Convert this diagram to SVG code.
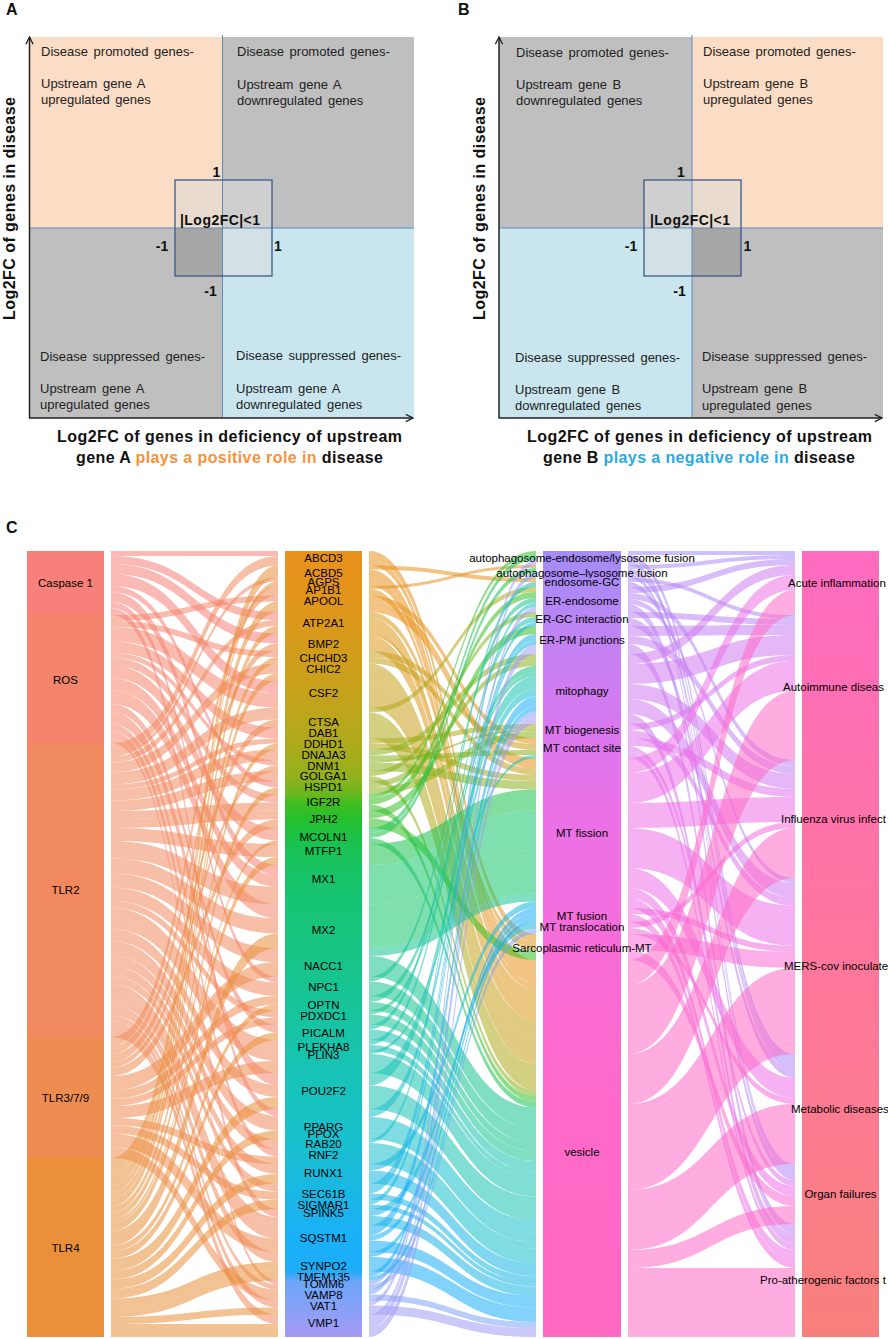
<svg xmlns="http://www.w3.org/2000/svg" width="888" height="1339" viewBox="0 0 888 1339">
<style>
text{font-family:"Liberation Sans",Arial,Helvetica,sans-serif;fill:#111}
.q{font-size:13px;word-spacing:2px;fill:#222}
.ax{font-size:16px;font-weight:bold}
.n{font-size:14px;font-weight:bold;text-anchor:middle}
.pl{font-size:16px;font-weight:bold}
.lb{font-size:11.5px;text-anchor:middle;fill:#000}
.ls{font-size:11.5px;fill:#000}
.axis{stroke:#222;stroke-width:1.5;fill:none}
.div{stroke:#5B8BC6;stroke-width:1;fill:none}
.box{stroke:#3A5A8C;stroke-width:1.3;fill:none}
.or{fill:#FBDCC4}.gr{fill:#BFBFBF}.bl{fill:#C9E6EF}
.fl path{fill-opacity:.55}
.s1{fill:#F8807A}.s2{fill:#F4856C}.s3{fill:#F28A60}.s4{fill:#EE8D52}.s5{fill:#EA903A}
.g1{fill:#E8911C}.g2{fill:#DC991B}.g3{fill:#C8A11B}.g4{fill:#AEAA1C}.g5{fill:#8CB31E}
.g6{fill:#34BF24}.g7{fill:#1AC250}.g8{fill:#17C46C}.g9{fill:#17C492}.g10{fill:#17C3B2}
.g11{fill:#18BFCC}.g12{fill:#19B7E4}.g13{fill:#1AAFF8}.g14{fill:#7FA4F8}.g15{fill:#A09AF6}
.p1{fill:#A68CF8}.p2{fill:#AC8AF7}.p3{fill:#B188F6}.p4{fill:#B886F5}.p5{fill:#BE84F4}
.p6{fill:#C581F3}.p7{fill:#D07CF1}.p8{fill:#DC77EE}.p9{fill:#E074EC}.p10{fill:#EC71E7}
.p11{fill:#F36EDF}.p12{fill:#F56EDC}.p13{fill:#F86CD6}.p14{fill:#FF6AC8}
.cg{fill:url(#gg)}.cp{fill:url(#gp)}.cd{fill:url(#gd)}
</style>
<defs>
<marker id="arr" viewBox="0 0 10 10" refX="9" refY="5" markerWidth="9" markerHeight="9" markerUnits="userSpaceOnUse" orient="auto">
<path d="M1 1L9 5L1 9" fill="none" stroke="#222" stroke-width="1.5"/>
</marker>
<linearGradient id="gg" gradientUnits="userSpaceOnUse" x1="0" y1="551" x2="0" y2="1337">
<stop offset="0" stop-color="#E8911C"/><stop offset="0.062" stop-color="#E2951B"/><stop offset="0.18" stop-color="#C6A21B"/>
<stop offset="0.246" stop-color="#AEAA1C"/><stop offset="0.286" stop-color="#94B11D"/><stop offset="0.309" stop-color="#6BB81E"/>
<stop offset="0.319" stop-color="#45BD20"/><stop offset="0.341" stop-color="#25C02E"/><stop offset="0.373" stop-color="#19C250"/>
<stop offset="0.417" stop-color="#17C46A"/><stop offset="0.505" stop-color="#17C482"/><stop offset="0.584" stop-color="#17C49C"/>
<stop offset="0.664" stop-color="#17C3B6"/><stop offset="0.749" stop-color="#18C0CC"/><stop offset="0.804" stop-color="#19B9E0"/>
<stop offset="0.874" stop-color="#1AB0F8"/><stop offset="0.916" stop-color="#1EADF9"/><stop offset="0.929" stop-color="#6BA6F8"/>
<stop offset="1" stop-color="#A69AF6"/>
</linearGradient>
<linearGradient id="gp" gradientUnits="userSpaceOnUse" x1="0" y1="551" x2="0" y2="1337">
<stop offset="0" stop-color="#A68CF8"/><stop offset="0.04" stop-color="#AC8AF7"/><stop offset="0.08" stop-color="#B886F5"/>
<stop offset="0.13" stop-color="#C681F3"/><stop offset="0.19" stop-color="#D17BF1"/><stop offset="0.24" stop-color="#DC77EE"/>
<stop offset="0.32" stop-color="#EA72E8"/><stop offset="0.455" stop-color="#F36EDF"/><stop offset="0.52" stop-color="#F86CD6"/>
<stop offset="0.7" stop-color="#FF6ACA"/><stop offset="1" stop-color="#FF69C2"/>
</linearGradient>
<linearGradient id="gd" gradientUnits="userSpaceOnUse" x1="0" y1="551" x2="0" y2="1337">
<stop offset="0" stop-color="#FF6CC0"/><stop offset="0.19" stop-color="#FF6FB4"/><stop offset="0.35" stop-color="#FF73A8"/>
<stop offset="0.53" stop-color="#FF779C"/><stop offset="0.71" stop-color="#FD7B92"/><stop offset="0.82" stop-color="#FA7E88"/>
<stop offset="1" stop-color="#F8807C"/>
</linearGradient>
</defs>
<rect width="888" height="1339" fill="#fff"/>

<!-- Panel A -->
<g id="panelA">
<text class="pl" x="6" y="15">A</text>
<g id="A-q1"><rect class="or" x="30" y="37" width="192.5" height="191"/>
<text class="q" x="41" y="55.5">Disease promoted genes-</text><text class="q" x="41" y="87.5">Upstream gene A</text><text class="q" x="41" y="103.5">upregulated genes</text></g>
<g id="A-q2"><rect class="gr" x="222.5" y="37" width="191.5" height="191"/>
<text class="q" x="237" y="56">Disease promoted genes-</text><text class="q" x="237" y="88.5">Upstream gene A</text><text class="q" x="237" y="104.5">downregulated genes</text></g>
<g id="A-q3"><rect class="gr" x="30" y="228" width="192.5" height="190"/>
<text class="q" x="40" y="361">Disease suppressed genes-</text><text class="q" x="40" y="393">Upstream gene A</text><text class="q" x="40" y="409">upregulated genes</text></g>
<g id="A-q4"><rect class="bl" x="222.5" y="228" width="191.5" height="190"/>
<text class="q" x="236" y="360">Disease suppressed genes-</text><text class="q" x="236" y="392.5">Upstream gene A</text><text class="q" x="236" y="408.5">downregulated genes</text></g>
<g id="A-box">
<rect x="175" y="180" width="47.5" height="48" fill="#EADBCF"/><rect x="222.5" y="180" width="49.5" height="48" fill="#CFCFCF"/>
<rect x="175" y="228" width="47.5" height="48" fill="#A6A6A6"/><rect x="222.5" y="228" width="49.5" height="48" fill="#D3E0E4"/>
</g>
<line class="div" x1="222.5" y1="35" x2="222.5" y2="418"/>
<line class="div" x1="30" y1="228" x2="414" y2="228"/>
<rect class="box" x="175" y="180" width="97" height="96"/>
<text class="n" x="216.5" y="176.5">1</text>
<text class="n" x="220" y="225" textLength="80" lengthAdjust="spacing">|Log2FC|&lt;1</text>
<text class="n" x="162" y="251">-1</text>
<text class="n" x="278" y="251">1</text>
<text class="n" x="210.5" y="296">-1</text>
<line class="axis" x1="29.5" y1="418" x2="29.5" y2="37" marker-end="url(#arr)"/>
<line class="axis" x1="29" y1="418" x2="413" y2="418" marker-end="url(#arr)"/>
<text class="ax" transform="translate(15,208.5) rotate(-90)" text-anchor="middle" textLength="223" lengthAdjust="spacing">Log2FC of genes in disease</text>
<text class="ax" x="229.5" y="442" text-anchor="middle" textLength="345" lengthAdjust="spacing">Log2FC of genes in deficiency of upstream</text>
<text class="ax" x="229.5" y="463" text-anchor="middle" textLength="307" lengthAdjust="spacing">gene A <tspan fill="#F7923A">plays a positive role in</tspan> disease</text>
</g>

<!-- Panel B -->
<g id="panelB">
<text class="pl" x="458" y="15">B</text>
<g id="B-q1"><rect class="gr" x="499" y="37" width="193" height="191"/>
<text class="q" x="516" y="57">Disease promoted genes-</text><text class="q" x="516" y="89">Upstream gene B</text><text class="q" x="516" y="105">downregulated genes</text></g>
<g id="B-q2"><rect class="or" x="692" y="37" width="191" height="191"/>
<text class="q" x="703" y="56">Disease promoted genes-</text><text class="q" x="703" y="88">Upstream gene B</text><text class="q" x="703" y="104">upregulated genes</text></g>
<g id="B-q3"><rect class="bl" x="499" y="228" width="193" height="190"/>
<text class="q" x="515" y="361.5">Disease suppressed genes-</text><text class="q" x="515" y="394">Upstream gene B</text><text class="q" x="515" y="410">downregulated genes</text></g>
<g id="B-q4"><rect class="gr" x="692" y="228" width="191" height="190"/>
<text class="q" x="702" y="361">Disease suppressed genes-</text><text class="q" x="702" y="393">Upstream gene B</text><text class="q" x="702" y="409.5">upregulated genes</text></g>
<g id="B-box">
<rect x="644" y="180" width="48" height="48" fill="#CFCFCF"/><rect x="692" y="180" width="49" height="48" fill="#EADBCF"/>
<rect x="644" y="228" width="48" height="48" fill="#D3E0E4"/><rect x="692" y="228" width="49" height="48" fill="#A6A6A6"/>
</g>
<line class="div" x1="692" y1="35" x2="692" y2="418"/>
<line class="div" x1="499" y1="228" x2="883" y2="228"/>
<rect class="box" x="644" y="180" width="97" height="96"/>
<text class="n" x="681" y="176.5">1</text>
<text class="n" x="690" y="225" textLength="80" lengthAdjust="spacing">|Log2FC|&lt;1</text>
<text class="n" x="631" y="251">-1</text>
<text class="n" x="747.5" y="251">1</text>
<text class="n" x="679.5" y="296">-1</text>
<line class="axis" x1="499" y1="418" x2="499" y2="37" marker-end="url(#arr)"/>
<line class="axis" x1="498.5" y1="418" x2="882" y2="418" marker-end="url(#arr)"/>
<text class="ax" transform="translate(485,208.5) rotate(-90)" text-anchor="middle" textLength="223" lengthAdjust="spacing">Log2FC of genes in disease</text>
<text class="ax" x="699.5" y="442" text-anchor="middle" textLength="345" lengthAdjust="spacing">Log2FC of genes in deficiency of upstream</text>
<text class="ax" x="699" y="463" text-anchor="middle" textLength="312" lengthAdjust="spacing">gene B <tspan fill="#29ABE2">plays a negative role in</tspan> disease</text>
</g>

<!-- Panel C -->
<text class="pl" x="6" y="533">C</text>
<g id="connectors" class="fl">
<g transform="translate(111,0)">
<g class="s1">
<path d="M0 551C83.5 551 83.5 551 167 551V556C83.5 556 83.5 556 0 556Z"/>
<path d="M0 556C83.5 556 83.5 612 167 612V620C83.5 620 83.5 564 0 564Z"/>
<path d="M0 564C83.5 564 83.5 633.5 167 633.5V643.5C83.5 643.5 83.5 574 0 574Z"/>
<path d="M0 574C83.5 574 83.5 681 167 681V693C83.5 693 83.5 586 0 586Z"/>
<path d="M0 586C83.5 586 83.5 781.5 167 781.5V787.5C83.5 787.5 83.5 592 0 592Z"/>
<path d="M0 592C83.5 592 83.5 865 167 865V875C83.5 875 83.5 602 0 602Z"/>
<path d="M0 602C83.5 602 83.5 976.5 167 976.5V982.5C83.5 982.5 83.5 608 0 608Z"/>
<path d="M0 608C83.5 608 83.5 1109 167 1109V1116C83.5 1116 83.5 615 0 615Z"/>
</g>
<g class="s2">
<path d="M0 615C83.5 615 83.5 595.5 167 595.5V601.5C83.5 601.5 83.5 621 0 621Z"/>
<path d="M0 621C83.5 621 83.5 651 167 651V657C83.5 657 83.5 627 0 627Z"/>
<path d="M0 627C83.5 627 83.5 693 167 693V707.5C83.5 707.5 83.5 641.5 0 641.5Z"/>
<path d="M0 641.5C83.5 641.5 83.5 727.5 167 727.5V738.5C83.5 738.5 83.5 652.5 0 652.5Z"/>
<path d="M0 652.5C83.5 652.5 83.5 760.5 167 760.5V765.5C83.5 765.5 83.5 657.5 0 657.5Z"/>
<path d="M0 657.5C83.5 657.5 83.5 794.5 167 794.5V802.5C83.5 802.5 83.5 665.5 0 665.5Z"/>
<path d="M0 665.5C83.5 665.5 83.5 828 167 828V840.5C83.5 840.5 83.5 678 0 678Z"/>
<path d="M0 678C83.5 678 83.5 875 167 875V887C83.5 887 83.5 690 0 690Z"/>
<path d="M0 690C83.5 690 83.5 904.5 167 904.5V918.5C83.5 918.5 83.5 704 0 704Z"/>
<path d="M0 704C83.5 704 83.5 1024.5 167 1024.5V1032.5C83.5 1032.5 83.5 712 0 712Z"/>
<path d="M0 712C83.5 712 83.5 1073 167 1073V1085C83.5 1085 83.5 724 0 724Z"/>
<path d="M0 724C83.5 724 83.5 1149.5 167 1149.5V1156.5C83.5 1156.5 83.5 731 0 731Z"/>
<path d="M0 731C83.5 731 83.5 1209 167 1209V1217C83.5 1217 83.5 739 0 739Z"/>
<path d="M0 739C83.5 739 83.5 1280.5 167 1280.5V1284.5C83.5 1284.5 83.5 743 0 743Z"/>
</g>
<g class="s3">
<path d="M0 743C83.5 743 83.5 556 167 556V565.5C83.5 565.5 83.5 752.5 0 752.5Z"/>
<path d="M0 752.5C83.5 752.5 83.5 577.5 167 577.5V581.5C83.5 581.5 83.5 756.5 0 756.5Z"/>
<path d="M0 756.5C83.5 756.5 83.5 620 167 620V626C83.5 626 83.5 762.5 0 762.5Z"/>
<path d="M0 762.5C83.5 762.5 83.5 663.5 167 663.5V673.5C83.5 673.5 83.5 772.5 0 772.5Z"/>
<path d="M0 772.5C83.5 772.5 83.5 707.5 167 707.5V719.5C83.5 719.5 83.5 784.5 0 784.5Z"/>
<path d="M0 784.5C83.5 784.5 83.5 738.5 167 738.5V743.5C83.5 743.5 83.5 789.5 0 789.5Z"/>
<path d="M0 789.5C83.5 789.5 83.5 749.5 167 749.5V760.5C83.5 760.5 83.5 800.5 0 800.5Z"/>
<path d="M0 800.5C83.5 800.5 83.5 771 167 771V781.5C83.5 781.5 83.5 811 0 811Z"/>
<path d="M0 811C83.5 811 83.5 802.5 167 802.5V810.5C83.5 810.5 83.5 819 0 819Z"/>
<path d="M0 819C83.5 819 83.5 810.5 167 810.5V819.5C83.5 819.5 83.5 828 0 828Z"/>
<path d="M0 828C83.5 828 83.5 844 167 844V857C83.5 857 83.5 841 0 841Z"/>
<path d="M0 841C83.5 841 83.5 887 167 887V904.5C83.5 904.5 83.5 858.5 0 858.5Z"/>
<path d="M0 858.5C83.5 858.5 83.5 918.5 167 918.5V933.5C83.5 933.5 83.5 873.5 0 873.5Z"/>
<path d="M0 873.5C83.5 873.5 83.5 948 167 948V962C83.5 962 83.5 887.5 0 887.5Z"/>
<path d="M0 887.5C83.5 887.5 83.5 982.5 167 982.5V996C83.5 996 83.5 901 0 901Z"/>
<path d="M0 901C83.5 901 83.5 1010.5 167 1010.5V1017.5C83.5 1017.5 83.5 908 0 908Z"/>
<path d="M0 908C83.5 908 83.5 1040 167 1040V1051C83.5 1051 83.5 919 0 919Z"/>
<path d="M0 919C83.5 919 83.5 1051 167 1051V1061C83.5 1061 83.5 929 0 929Z"/>
<path d="M0 929C83.5 929 83.5 1085 167 1085V1097C83.5 1097 83.5 941 0 941Z"/>
<path d="M0 941C83.5 941 83.5 1116 167 1116V1130.5C83.5 1130.5 83.5 955.5 0 955.5Z"/>
<path d="M0 955.5C83.5 955.5 83.5 1139 167 1139V1149.5C83.5 1149.5 83.5 966 0 966Z"/>
<path d="M0 966C83.5 966 83.5 1164 167 1164V1174C83.5 1174 83.5 976 0 976Z"/>
<path d="M0 976C83.5 976 83.5 1183.5 167 1183.5V1191.5C83.5 1191.5 83.5 984 0 984Z"/>
<path d="M0 984C83.5 984 83.5 1217 167 1217V1225.5C83.5 1225.5 83.5 992.5 0 992.5Z"/>
<path d="M0 992.5C83.5 992.5 83.5 1225.5 167 1225.5V1238.5C83.5 1238.5 83.5 1005.5 0 1005.5Z"/>
<path d="M0 1005.5C83.5 1005.5 83.5 1252 167 1252V1262C83.5 1262 83.5 1015.5 0 1015.5Z"/>
<path d="M0 1015.5C83.5 1015.5 83.5 1284.5 167 1284.5V1289.5C83.5 1289.5 83.5 1020.5 0 1020.5Z"/>
<path d="M0 1020.5C83.5 1020.5 83.5 1300.5 167 1300.5V1307.5C83.5 1307.5 83.5 1027.5 0 1027.5Z"/>
<path d="M0 1027.5C83.5 1027.5 83.5 1314.5 167 1314.5V1324C83.5 1324 83.5 1037 0 1037Z"/>
</g>
<g class="s4">
<path d="M0 1037C83.5 1037 83.5 586 167 586V595.5C83.5 595.5 83.5 1046.5 0 1046.5Z"/>
<path d="M0 1046.5C83.5 1046.5 83.5 643.5 167 643.5V651C83.5 651 83.5 1054 0 1054Z"/>
<path d="M0 1054C83.5 1054 83.5 719.5 167 719.5V727.5C83.5 727.5 83.5 1062 0 1062Z"/>
<path d="M0 1062C83.5 1062 83.5 765.5 167 765.5V771C83.5 771 83.5 1067.5 0 1067.5Z"/>
<path d="M0 1067.5C83.5 1067.5 83.5 819.5 167 819.5V828C83.5 828 83.5 1076 0 1076Z"/>
<path d="M0 1076C83.5 1076 83.5 962 167 962V976.5C83.5 976.5 83.5 1090.5 0 1090.5Z"/>
<path d="M0 1090.5C83.5 1090.5 83.5 996 167 996V1004.5C83.5 1004.5 83.5 1099 0 1099Z"/>
<path d="M0 1099C83.5 1099 83.5 1017.5 167 1017.5V1024.5C83.5 1024.5 83.5 1106 0 1106Z"/>
<path d="M0 1106C83.5 1106 83.5 1061 167 1061V1073C83.5 1073 83.5 1118 0 1118Z"/>
<path d="M0 1118C83.5 1118 83.5 1156.5 167 1156.5V1164C83.5 1164 83.5 1125.5 0 1125.5Z"/>
<path d="M0 1125.5C83.5 1125.5 83.5 1191.5 167 1191.5V1199.5C83.5 1199.5 83.5 1133.5 0 1133.5Z"/>
<path d="M0 1133.5C83.5 1133.5 83.5 1238.5 167 1238.5V1252C83.5 1252 83.5 1147 0 1147Z"/>
<path d="M0 1147C83.5 1147 83.5 1289.5 167 1289.5V1300.5C83.5 1300.5 83.5 1158 0 1158Z"/>
</g>
<g class="s5">
<path d="M0 1158C83.5 1158 83.5 565.5 167 565.5V577.5C83.5 577.5 83.5 1170 0 1170Z"/>
<path d="M0 1170C83.5 1170 83.5 581.5 167 581.5V586C83.5 586 83.5 1174.5 0 1174.5Z"/>
<path d="M0 1174.5C83.5 1174.5 83.5 601.5 167 601.5V612C83.5 612 83.5 1185 0 1185Z"/>
<path d="M0 1185C83.5 1185 83.5 626 167 626V633.5C83.5 633.5 83.5 1192.5 0 1192.5Z"/>
<path d="M0 1192.5C83.5 1192.5 83.5 657 167 657V663.5C83.5 663.5 83.5 1199 0 1199Z"/>
<path d="M0 1199C83.5 1199 83.5 673.5 167 673.5V681C83.5 681 83.5 1206.5 0 1206.5Z"/>
<path d="M0 1206.5C83.5 1206.5 83.5 743.5 167 743.5V749.5C83.5 749.5 83.5 1212.5 0 1212.5Z"/>
<path d="M0 1212.5C83.5 1212.5 83.5 787.5 167 787.5V794.5C83.5 794.5 83.5 1219.5 0 1219.5Z"/>
<path d="M0 1219.5C83.5 1219.5 83.5 840.5 167 840.5V844C83.5 844 83.5 1223 0 1223Z"/>
<path d="M0 1223C83.5 1223 83.5 857 167 857V865C83.5 865 83.5 1231 0 1231Z"/>
<path d="M0 1231C83.5 1231 83.5 933.5 167 933.5V948C83.5 948 83.5 1245.5 0 1245.5Z"/>
<path d="M0 1245.5C83.5 1245.5 83.5 1004.5 167 1004.5V1010.5C83.5 1010.5 83.5 1251.5 0 1251.5Z"/>
<path d="M0 1251.5C83.5 1251.5 83.5 1032.5 167 1032.5V1040C83.5 1040 83.5 1259 0 1259Z"/>
<path d="M0 1259C83.5 1259 83.5 1097 167 1097V1109C83.5 1109 83.5 1271 0 1271Z"/>
<path d="M0 1271C83.5 1271 83.5 1130.5 167 1130.5V1139C83.5 1139 83.5 1279.5 0 1279.5Z"/>
<path d="M0 1279.5C83.5 1279.5 83.5 1174 167 1174V1183.5C83.5 1183.5 83.5 1289 0 1289Z"/>
<path d="M0 1289C83.5 1289 83.5 1199.5 167 1199.5V1209C83.5 1209 83.5 1298.5 0 1298.5Z"/>
<path d="M0 1298.5C83.5 1298.5 83.5 1262 167 1262V1271.5C83.5 1271.5 83.5 1308 0 1308Z"/>
<path d="M0 1308C83.5 1308 83.5 1271.5 167 1271.5V1280.5C83.5 1280.5 83.5 1317 0 1317Z"/>
<path d="M0 1317C83.5 1317 83.5 1307.5 167 1307.5V1314.5C83.5 1314.5 83.5 1324 0 1324Z"/>
<path d="M0 1324C83.5 1324 83.5 1324 167 1324V1337C83.5 1337 83.5 1337 0 1337Z"/>
</g>
</g>
<g transform="translate(369,0)">
<g class="g1">
<path d="M0 551C83.5 551 83.5 934 167 934V942C83.5 942 83.5 559 0 559Z"/>
<path d="M0 559C83.5 559 83.5 960 167 960V966.5C83.5 966.5 83.5 565.5 0 565.5Z"/>
<path d="M0 565.5C83.5 565.5 83.5 578 167 578V582C83.5 582 83.5 569.5 0 569.5Z"/>
<path d="M0 569.5C83.5 569.5 83.5 966.5 167 966.5V974.5C83.5 974.5 83.5 577.5 0 577.5Z"/>
<path d="M0 577.5C83.5 577.5 83.5 974.5 167 974.5V983C83.5 983 83.5 586 0 586Z"/>
<path d="M0 586C83.5 586 83.5 565 167 565V568C83.5 568 83.5 589 0 589Z"/>
<path d="M0 589C83.5 589 83.5 983 167 983V989.5C83.5 989.5 83.5 595.5 0 595.5Z"/>
<path d="M0 595.5C83.5 595.5 83.5 738 167 738V744C83.5 744 83.5 601.5 0 601.5Z"/>
<path d="M0 601.5C83.5 601.5 83.5 758 167 758V768.5C83.5 768.5 83.5 612 0 612Z"/>
</g>
<g class="g2">
<path d="M0 612C83.5 612 83.5 942 167 942V948C83.5 948 83.5 618 0 618Z"/>
<path d="M0 618C83.5 618 83.5 989.5 167 989.5V1005C83.5 1005 83.5 633.5 0 633.5Z"/>
<path d="M0 633.5C83.5 633.5 83.5 948 167 948V950.5C83.5 950.5 83.5 636 0 636Z"/>
<path d="M0 636C83.5 636 83.5 1005 167 1005V1020C83.5 1020 83.5 651 0 651Z"/>
</g>
<g class="g3">
<path d="M0 651C83.5 651 83.5 744 167 744V750C83.5 750 83.5 657 0 657Z"/>
<path d="M0 657C83.5 657 83.5 768.5 167 768.5V775C83.5 775 83.5 663.5 0 663.5Z"/>
<path d="M0 663.5C83.5 663.5 83.5 1020 167 1020V1037.5C83.5 1037.5 83.5 681 0 681Z"/>
<path d="M0 681C83.5 681 83.5 1037.5 167 1037.5V1064C83.5 1064 83.5 707.5 0 707.5Z"/>
</g>
<g class="g4">
<path d="M0 707.5C83.5 707.5 83.5 587 167 587V592C83.5 592 83.5 712.5 0 712.5Z"/>
<path d="M0 712.5C83.5 712.5 83.5 1064 167 1064V1079C83.5 1079 83.5 727.5 0 727.5Z"/>
<path d="M0 727.5C83.5 727.5 83.5 1079 167 1079V1090C83.5 1090 83.5 738.5 0 738.5Z"/>
<path d="M0 738.5C83.5 738.5 83.5 724 167 724V729C83.5 729 83.5 743.5 0 743.5Z"/>
<path d="M0 743.5C83.5 743.5 83.5 775 167 775V781C83.5 781 83.5 749.5 0 749.5Z"/>
</g>
<g class="g5">
<path d="M0 749.5C83.5 749.5 83.5 654 167 654V660C83.5 660 83.5 755.5 0 755.5Z"/>
<path d="M0 755.5C83.5 755.5 83.5 750 167 750V755C83.5 755 83.5 760.5 0 760.5Z"/>
<path d="M0 760.5C83.5 760.5 83.5 729 167 729V731C83.5 731 83.5 762.5 0 762.5Z"/>
<path d="M0 762.5C83.5 762.5 83.5 781 167 781V789.5C83.5 789.5 83.5 771 0 771Z"/>
<path d="M0 771C83.5 771 83.5 612 167 612V617C83.5 617 83.5 776 0 776Z"/>
<path d="M0 776C83.5 776 83.5 1090 167 1090V1095.5C83.5 1095.5 83.5 781.5 0 781.5Z"/>
<path d="M0 781.5C83.5 781.5 83.5 660 167 660V666C83.5 666 83.5 787.5 0 787.5Z"/>
<path d="M0 787.5C83.5 787.5 83.5 731 167 731V738C83.5 738 83.5 794.5 0 794.5Z"/>
</g>
<g class="g6">
<path d="M0 794.5C83.5 794.5 83.5 551 167 551V555C83.5 555 83.5 798.5 0 798.5Z"/>
<path d="M0 798.5C83.5 798.5 83.5 592 167 592V598C83.5 598 83.5 804.5 0 804.5Z"/>
<path d="M0 804.5C83.5 804.5 83.5 1095.5 167 1095.5V1101.5C83.5 1101.5 83.5 810.5 0 810.5Z"/>
<path d="M0 810.5C83.5 810.5 83.5 626 167 626V634C83.5 634 83.5 818.5 0 818.5Z"/>
<path d="M0 818.5C83.5 818.5 83.5 950.5 167 950.5V960C83.5 960 83.5 828 0 828Z"/>
</g>
<g class="g7">
<path d="M0 828C83.5 828 83.5 555 167 555V560C83.5 560 83.5 833 0 833Z"/>
<path d="M0 833C83.5 833 83.5 568 167 568V573C83.5 573 83.5 838 0 838Z"/>
<path d="M0 838C83.5 838 83.5 1101.5 167 1101.5V1107.5C83.5 1107.5 83.5 844 0 844Z"/>
<path d="M0 844C83.5 844 83.5 789.5 167 789.5V810.5C83.5 810.5 83.5 865 0 865Z"/>
</g>
<g class="g8">
<path d="M0 865C83.5 865 83.5 810.5 167 810.5V850C83.5 850 83.5 904.5 0 904.5Z"/>
<path d="M0 904.5C83.5 904.5 83.5 850 167 850V893.5C83.5 893.5 83.5 948 0 948Z"/>
</g>
<g class="g9">
<path d="M0 948C83.5 948 83.5 893.5 167 893.5V901.5C83.5 901.5 83.5 956 0 956Z"/>
<path d="M0 956C83.5 956 83.5 1107.5 167 1107.5V1128C83.5 1128 83.5 976.5 0 976.5Z"/>
<path d="M0 976.5C83.5 976.5 83.5 598 167 598V603C83.5 603 83.5 981.5 0 981.5Z"/>
<path d="M0 981.5C83.5 981.5 83.5 1128 167 1128V1142.5C83.5 1142.5 83.5 996 0 996Z"/>
<path d="M0 996C83.5 996 83.5 666 167 666V672C83.5 672 83.5 1002 0 1002Z"/>
<path d="M0 1002C83.5 1002 83.5 1142.5 167 1142.5V1151C83.5 1151 83.5 1010.5 0 1010.5Z"/>
<path d="M0 1010.5C83.5 1010.5 83.5 672 167 672V676C83.5 676 83.5 1014.5 0 1014.5Z"/>
<path d="M0 1014.5C83.5 1014.5 83.5 1151 167 1151V1161C83.5 1161 83.5 1024.5 0 1024.5Z"/>
</g>
<g class="g10">
<path d="M0 1024.5C83.5 1024.5 83.5 582 167 582V587C83.5 587 83.5 1029.5 0 1029.5Z"/>
<path d="M0 1029.5C83.5 1029.5 83.5 1161 167 1161V1171.5C83.5 1171.5 83.5 1040 0 1040Z"/>
<path d="M0 1040C83.5 1040 83.5 617 167 617V622C83.5 622 83.5 1045 0 1045Z"/>
<path d="M0 1045C83.5 1045 83.5 1171.5 167 1171.5V1177.5C83.5 1177.5 83.5 1051 0 1051Z"/>
<path d="M0 1051C83.5 1051 83.5 755 167 755V758C83.5 758 83.5 1054 0 1054Z"/>
<path d="M0 1054C83.5 1054 83.5 1177.5 167 1177.5V1196.5C83.5 1196.5 83.5 1073 0 1073Z"/>
<path d="M0 1073C83.5 1073 83.5 676 167 676V688.5C83.5 688.5 83.5 1085.5 0 1085.5Z"/>
<path d="M0 1085.5C83.5 1085.5 83.5 1196.5 167 1196.5V1220C83.5 1220 83.5 1109 0 1109Z"/>
</g>
<g class="g11">
<path d="M0 1109C83.5 1109 83.5 688.5 167 688.5V696.5C83.5 696.5 83.5 1117 0 1117Z"/>
<path d="M0 1117C83.5 1117 83.5 1220 167 1220V1233.5C83.5 1233.5 83.5 1130.5 0 1130.5Z"/>
<path d="M0 1130.5C83.5 1130.5 83.5 1233.5 167 1233.5V1242C83.5 1242 83.5 1139 0 1139Z"/>
<path d="M0 1139C83.5 1139 83.5 603 167 603V607C83.5 607 83.5 1143 0 1143Z"/>
<path d="M0 1143C83.5 1143 83.5 1242 167 1242V1248.5C83.5 1248.5 83.5 1149.5 0 1149.5Z"/>
<path d="M0 1149.5C83.5 1149.5 83.5 1248.5 167 1248.5V1263C83.5 1263 83.5 1164 0 1164Z"/>
</g>
<g class="g12">
<path d="M0 1164C83.5 1164 83.5 901.5 167 901.5V908C83.5 908 83.5 1170.5 0 1170.5Z"/>
<path d="M0 1170.5C83.5 1170.5 83.5 1263 167 1263V1276C83.5 1276 83.5 1183.5 0 1183.5Z"/>
<path d="M0 1183.5C83.5 1183.5 83.5 622 167 622V626C83.5 626 83.5 1187.5 0 1187.5Z"/>
<path d="M0 1187.5C83.5 1187.5 83.5 634 167 634V640C83.5 640 83.5 1193.5 0 1193.5Z"/>
<path d="M0 1193.5C83.5 1193.5 83.5 1276 167 1276V1282C83.5 1282 83.5 1199.5 0 1199.5Z"/>
<path d="M0 1199.5C83.5 1199.5 83.5 640 167 640V645C83.5 645 83.5 1204.5 0 1204.5Z"/>
<path d="M0 1204.5C83.5 1204.5 83.5 1282 167 1282V1286.5C83.5 1286.5 83.5 1209 0 1209Z"/>
<path d="M0 1209C83.5 1209 83.5 922 167 922V929C83.5 929 83.5 1216 0 1216Z"/>
<path d="M0 1216C83.5 1216 83.5 1286.5 167 1286.5V1296C83.5 1296 83.5 1225.5 0 1225.5Z"/>
</g>
<g class="g13">
<path d="M0 1225.5C83.5 1225.5 83.5 696.5 167 696.5V706.5C83.5 706.5 83.5 1235.5 0 1235.5Z"/>
<path d="M0 1235.5C83.5 1235.5 83.5 908 167 908V913C83.5 913 83.5 1240.5 0 1240.5Z"/>
<path d="M0 1240.5C83.5 1240.5 83.5 1296 167 1296V1307.5C83.5 1307.5 83.5 1252 0 1252Z"/>
<path d="M0 1252C83.5 1252 83.5 913 167 913V918C83.5 918 83.5 1257 0 1257Z"/>
<path d="M0 1257C83.5 1257 83.5 1307.5 167 1307.5V1322C83.5 1322 83.5 1271.5 0 1271.5Z"/>
<path d="M0 1271.5C83.5 1271.5 83.5 706.5 167 706.5V711.5C83.5 711.5 83.5 1276.5 0 1276.5Z"/>
<path d="M0 1276.5C83.5 1276.5 83.5 918 167 918V922C83.5 922 83.5 1280.5 0 1280.5Z"/>
</g>
<g class="g14">
<path d="M0 1280.5C83.5 1280.5 83.5 711.5 167 711.5V715.5C83.5 715.5 83.5 1284.5 0 1284.5Z"/>
<path d="M0 1284.5C83.5 1284.5 83.5 929 167 929V934C83.5 934 83.5 1289.5 0 1289.5Z"/>
<path d="M0 1289.5C83.5 1289.5 83.5 573 167 573V578C83.5 578 83.5 1294.5 0 1294.5Z"/>
<path d="M0 1294.5C83.5 1294.5 83.5 1322 167 1322V1328C83.5 1328 83.5 1300.5 0 1300.5Z"/>
</g>
<g class="g15">
<path d="M0 1300.5C83.5 1300.5 83.5 560 167 560V565C83.5 565 83.5 1305.5 0 1305.5Z"/>
<path d="M0 1305.5C83.5 1305.5 83.5 1328 167 1328V1337C83.5 1337 83.5 1314.5 0 1314.5Z"/>
<path d="M0 1314.5C83.5 1314.5 83.5 607 167 607V612C83.5 612 83.5 1319.5 0 1319.5Z"/>
<path d="M0 1319.5C83.5 1319.5 83.5 645 167 645V654C83.5 654 83.5 1328.5 0 1328.5Z"/>
<path d="M0 1328.5C83.5 1328.5 83.5 715.5 167 715.5V724C83.5 724 83.5 1337 0 1337Z"/>
</g>
</g>
<g transform="translate(628,0)">
<g class="p1">
<path d="M0 551C83.5 551 83.5 551 167 551V555C83.5 555 83.5 555 0 555Z"/>
<path d="M0 555C83.5 555 83.5 1054 167 1054V1060C83.5 1060 83.5 561 0 561Z"/>
<path d="M0 561C83.5 561 83.5 1164 167 1164V1168C83.5 1168 83.5 565 0 565Z"/>
</g>
<g class="p2">
<path d="M0 565C83.5 565 83.5 555 167 555V559C83.5 559 83.5 569 0 569Z"/>
<path d="M0 569C83.5 569 83.5 1060 167 1060V1065C83.5 1065 83.5 574 0 574Z"/>
<path d="M0 574C83.5 574 83.5 1168 167 1168V1172C83.5 1172 83.5 578 0 578Z"/>
</g>
<g class="p3">
<path d="M0 578C83.5 578 83.5 615 167 615V619C83.5 619 83.5 582 0 582Z"/>
<path d="M0 582C83.5 582 83.5 1065 167 1065V1070C83.5 1070 83.5 587 0 587Z"/>
</g>
<g class="p4">
<path d="M0 587C83.5 587 83.5 559 167 559V565C83.5 565 83.5 593 0 593Z"/>
<path d="M0 593C83.5 593 83.5 760 167 760V766C83.5 766 83.5 599 0 599Z"/>
<path d="M0 599C83.5 599 83.5 878 167 878V883C83.5 883 83.5 604 0 604Z"/>
<path d="M0 604C83.5 604 83.5 1172 167 1172V1180C83.5 1180 83.5 612 0 612Z"/>
</g>
<g class="p5">
<path d="M0 612C83.5 612 83.5 619 167 619V625C83.5 625 83.5 618 0 618Z"/>
<path d="M0 618C83.5 618 83.5 1070 167 1070V1078C83.5 1078 83.5 626 0 626Z"/>
</g>
<g class="p6">
<path d="M0 626C83.5 626 83.5 625 167 625V635C83.5 635 83.5 636 0 636Z"/>
<path d="M0 636C83.5 636 83.5 766 167 766V774C83.5 774 83.5 644 0 644Z"/>
<path d="M0 644C83.5 644 83.5 1224 167 1224V1234C83.5 1234 83.5 654 0 654Z"/>
</g>
<g class="p7">
<path d="M0 654C83.5 654 83.5 565 167 565V575C83.5 575 83.5 664 0 664Z"/>
<path d="M0 664C83.5 664 83.5 635 167 635V655C83.5 655 83.5 684 0 684Z"/>
<path d="M0 684C83.5 684 83.5 774 167 774V789C83.5 789 83.5 699 0 699Z"/>
<path d="M0 699C83.5 699 83.5 883 167 883V898C83.5 898 83.5 714 0 714Z"/>
<path d="M0 714C83.5 714 83.5 1234 167 1234V1244C83.5 1244 83.5 724 0 724Z"/>
</g>
<g class="p8">
<path d="M0 724C83.5 724 83.5 655 167 655V661C83.5 661 83.5 730 0 730Z"/>
<path d="M0 730C83.5 730 83.5 898 167 898V906C83.5 906 83.5 738 0 738Z"/>
</g>
<g class="p9">
<path d="M0 738C83.5 738 83.5 789 167 789V797C83.5 797 83.5 746 0 746Z"/>
<path d="M0 746C83.5 746 83.5 1180 167 1180V1186C83.5 1186 83.5 752 0 752Z"/>
<path d="M0 752C83.5 752 83.5 1244 167 1244V1250C83.5 1250 83.5 758 0 758Z"/>
</g>
<g class="p10">
<path d="M0 758C83.5 758 83.5 575 167 575V590C83.5 590 83.5 773 0 773Z"/>
<path d="M0 773C83.5 773 83.5 661 167 661V691C83.5 691 83.5 803 0 803Z"/>
<path d="M0 803C83.5 803 83.5 797 167 797V822C83.5 822 83.5 828 0 828Z"/>
<path d="M0 828C83.5 828 83.5 906 167 906V946C83.5 946 83.5 868 0 868Z"/>
<path d="M0 868C83.5 868 83.5 1078 167 1078V1098C83.5 1098 83.5 888 0 888Z"/>
<path d="M0 888C83.5 888 83.5 1186 167 1186V1196C83.5 1196 83.5 898 0 898Z"/>
<path d="M0 898C83.5 898 83.5 1250 167 1250V1260C83.5 1260 83.5 908 0 908Z"/>
</g>
<g class="p11">
<path d="M0 908C83.5 908 83.5 946 167 946V952C83.5 952 83.5 914 0 914Z"/>
<path d="M0 914C83.5 914 83.5 1260 167 1260V1268C83.5 1268 83.5 922 0 922Z"/>
</g>
<g class="p12">
<path d="M0 922C83.5 922 83.5 822 167 822V828C83.5 828 83.5 928 0 928Z"/>
<path d="M0 928C83.5 928 83.5 1098 167 1098V1104C83.5 1104 83.5 934 0 934Z"/>
</g>
<g class="p13">
<path d="M0 934C83.5 934 83.5 952 167 952V968C83.5 968 83.5 950 0 950Z"/>
<path d="M0 950C83.5 950 83.5 1196 167 1196V1206C83.5 1206 83.5 960 0 960Z"/>
</g>
<g class="p14">
<path d="M0 960C83.5 960 83.5 590 167 590V615C83.5 615 83.5 985 0 985Z"/>
<path d="M0 985C83.5 985 83.5 691 167 691V760C83.5 760 83.5 1054 0 1054Z"/>
<path d="M0 1054C83.5 1054 83.5 828 167 828V878C83.5 878 83.5 1104 0 1104Z"/>
<path d="M0 1104C83.5 1104 83.5 968 167 968V1054C83.5 1054 83.5 1190 0 1190Z"/>
<path d="M0 1190C83.5 1190 83.5 1104 167 1104V1164C83.5 1164 83.5 1250 0 1250Z"/>
<path d="M0 1250C83.5 1250 83.5 1206 167 1206V1224C83.5 1224 83.5 1268 0 1268Z"/>
<path d="M0 1268C83.5 1268 83.5 1268 167 1268V1337C83.5 1337 83.5 1337 0 1337Z"/>
</g>
</g>
</g>

<!-- column backings (hide seams between strata) -->
<g id="column-backing">
<rect class="cg" x="285" y="551" width="77" height="786"/>
<rect class="cp" x="543" y="551" width="78" height="786"/>
<rect class="cd" x="802" y="551" width="77" height="786"/>
</g>

<!-- Column 1 nodes -->
<g id="n-caspase1"><rect class="s1" x="27" y="551" width="77" height="64"/><text class="lb" x="65.5" y="587">Caspase 1</text></g>
<g id="n-ros"><rect class="s2" x="27" y="615" width="77" height="128"/><text class="lb" x="65.5" y="684">ROS</text></g>
<g id="n-tlr2"><rect class="s3" x="27" y="743" width="77" height="294"/><text class="lb" x="65.5" y="894">TLR2</text></g>
<g id="n-tlr379"><rect class="s4" x="27" y="1037" width="77" height="121"/><text class="lb" x="65.5" y="1102">TLR3/7/9</text></g>
<g id="n-tlr4"><rect class="s5" x="27" y="1158" width="77" height="179"/><text class="lb" x="65.5" y="1252">TLR4</text></g>

<!-- Column 2 gene nodes -->
<g id="n-ABCD3"><rect class="cg" x="285" y="551" width="77" height="14.5"/><text class="lb" x="323.5" y="562">ABCD3</text></g>
<g id="n-ACBD5"><rect class="cg" x="285" y="565.5" width="77" height="12"/><text class="lb" x="323.5" y="577">ACBD5</text></g>
<g id="n-AGPS"><rect class="cg" x="285" y="577.5" width="77" height="8.5"/><text class="lb" x="323.5" y="586">AGPS</text></g>
<g id="n-AP1B1"><rect class="cg" x="285" y="586" width="77" height="9.5"/><text class="lb" x="323.5" y="594">AP1B1</text></g>
<g id="n-APOOL"><rect class="cg" x="285" y="595.5" width="77" height="16.5"/><text class="lb" x="323.5" y="605">APOOL</text></g>
<g id="n-ATP2A1"><rect class="cg" x="285" y="612" width="77" height="21.5"/><text class="lb" x="323.5" y="627">ATP2A1</text></g>
<g id="n-BMP2"><rect class="cg" x="285" y="633.5" width="77" height="17.5"/><text class="lb" x="323.5" y="648">BMP2</text></g>
<g id="n-CHCHD3"><rect class="cg" x="285" y="651" width="77" height="12.5"/><text class="lb" x="323.5" y="662">CHCHD3</text></g>
<g id="n-CHIC2"><rect class="cg" x="285" y="663.5" width="77" height="17.5"/><text class="lb" x="323.5" y="673">CHIC2</text></g>
<g id="n-CSF2"><rect class="cg" x="285" y="681" width="77" height="26.5"/><text class="lb" x="323.5" y="697">CSF2</text></g>
<g id="n-CTSA"><rect class="cg" x="285" y="707.5" width="77" height="20"/><text class="lb" x="323.5" y="726">CTSA</text></g>
<g id="n-DAB1"><rect class="cg" x="285" y="727.5" width="77" height="11"/><text class="lb" x="323.5" y="737">DAB1</text></g>
<g id="n-DDHD1"><rect class="cg" x="285" y="738.5" width="77" height="11"/><text class="lb" x="323.5" y="748">DDHD1</text></g>
<g id="n-DNAJA3"><rect class="cg" x="285" y="749.5" width="77" height="11"/><text class="lb" x="323.5" y="759">DNAJA3</text></g>
<g id="n-DNM1"><rect class="cg" x="285" y="760.5" width="77" height="10.5"/><text class="lb" x="323.5" y="770">DNM1</text></g>
<g id="n-GOLGA1"><rect class="cg" x="285" y="771" width="77" height="10.5"/><text class="lb" x="323.5" y="780">GOLGA1</text></g>
<g id="n-HSPD1"><rect class="cg" x="285" y="781.5" width="77" height="13"/><text class="lb" x="323.5" y="791">HSPD1</text></g>
<g id="n-IGF2R"><rect class="cg" x="285" y="794.5" width="77" height="16"/><text class="lb" x="323.5" y="806">IGF2R</text></g>
<g id="n-JPH2"><rect class="cg" x="285" y="810.5" width="77" height="17.5"/><text class="lb" x="323.5" y="823">JPH2</text></g>
<g id="n-MCOLN1"><rect class="cg" x="285" y="828" width="77" height="16"/><text class="lb" x="323.5" y="841">MCOLN1</text></g>
<g id="n-MTFP1"><rect class="cg" x="285" y="844" width="77" height="21"/><text class="lb" x="323.5" y="855">MTFP1</text></g>
<g id="n-MX1"><rect class="cg" x="285" y="865" width="77" height="39.5"/><text class="lb" x="323.5" y="883">MX1</text></g>
<g id="n-MX2"><rect class="cg" x="285" y="904.5" width="77" height="43.5"/><text class="lb" x="323.5" y="934">MX2</text></g>
<g id="n-NACC1"><rect class="cg" x="285" y="948" width="77" height="28.5"/><text class="lb" x="323.5" y="970">NACC1</text></g>
<g id="n-NPC1"><rect class="cg" x="285" y="976.5" width="77" height="19.5"/><text class="lb" x="323.5" y="991">NPC1</text></g>
<g id="n-OPTN"><rect class="cg" x="285" y="996" width="77" height="14.5"/><text class="lb" x="323.5" y="1009">OPTN</text></g>
<g id="n-PDXDC1"><rect class="cg" x="285" y="1010.5" width="77" height="14"/><text class="lb" x="323.5" y="1020">PDXDC1</text></g>
<g id="n-PICALM"><rect class="cg" x="285" y="1024.5" width="77" height="15.5"/><text class="lb" x="323.5" y="1037">PICALM</text></g>
<g id="n-PLEKHA8"><rect class="cg" x="285" y="1040" width="77" height="11"/><text class="lb" x="323.5" y="1051">PLEKHA8</text></g>
<g id="n-PLIN3"><rect class="cg" x="285" y="1051" width="77" height="22"/><text class="lb" x="323.5" y="1059">PLIN3</text></g>
<g id="n-POU2F2"><rect class="cg" x="285" y="1073" width="77" height="36"/><text class="lb" x="323.5" y="1095">POU2F2</text></g>
<g id="n-PPARG"><rect class="cg" x="285" y="1109" width="77" height="21.5"/><text class="lb" x="323.5" y="1131">PPARG</text></g>
<g id="n-PPOX"><rect class="cg" x="285" y="1130.5" width="77" height="8.5"/><text class="lb" x="323.5" y="1138">PPOX</text></g>
<g id="n-RAB20"><rect class="cg" x="285" y="1139" width="77" height="10.5"/><text class="lb" x="323.5" y="1148">RAB20</text></g>
<g id="n-RNF2"><rect class="cg" x="285" y="1149.5" width="77" height="14.5"/><text class="lb" x="323.5" y="1159">RNF2</text></g>
<g id="n-RUNX1"><rect class="cg" x="285" y="1164" width="77" height="19.5"/><text class="lb" x="323.5" y="1177">RUNX1</text></g>
<g id="n-SEC61B"><rect class="cg" x="285" y="1183.5" width="77" height="16"/><text class="lb" x="323.5" y="1198">SEC61B</text></g>
<g id="n-SIGMAR1"><rect class="cg" x="285" y="1199.5" width="77" height="9.5"/><text class="lb" x="323.5" y="1209">SIGMAR1</text></g>
<g id="n-SPINK5"><rect class="cg" x="285" y="1209" width="77" height="16.5"/><text class="lb" x="323.5" y="1217">SPINK5</text></g>
<g id="n-SQSTM1"><rect class="cg" x="285" y="1225.5" width="77" height="26.5"/><text class="lb" x="323.5" y="1242">SQSTM1</text></g>
<g id="n-SYNPO2"><rect class="cg" x="285" y="1252" width="77" height="19.5"/><text class="lb" x="323.5" y="1270">SYNPO2</text></g>
<g id="n-TMEM135"><rect class="cg" x="285" y="1271.5" width="77" height="9"/><text class="lb" x="323.5" y="1281">TMEM135</text></g>
<g id="n-TOMM6"><rect class="cg" x="285" y="1280.5" width="77" height="9"/><text class="lb" x="323.5" y="1288">TOMM6</text></g>
<g id="n-VAMP8"><rect class="cg" x="285" y="1289.5" width="77" height="11"/><text class="lb" x="323.5" y="1299">VAMP8</text></g>
<g id="n-VAT1"><rect class="cg" x="285" y="1300.5" width="77" height="14"/><text class="lb" x="323.5" y="1310">VAT1</text></g>
<g id="n-VMP1"><rect class="cg" x="285" y="1314.5" width="77" height="22.5"/><text class="lb" x="323.5" y="1327">VMP1</text></g>

<!-- Column 3 process nodes -->
<g id="n-p1"><rect class="cp" x="543" y="551" width="78" height="14"/><text class="lb" x="582" y="562">autophagosome-endosome/lysosome fusion</text></g>
<g id="n-p2"><rect class="cp" x="543" y="565" width="78" height="13"/><text class="lb" x="582" y="577">autophagosome–lysosome fusion</text></g>
<g id="n-p3"><rect class="cp" x="543" y="578" width="78" height="9"/><text class="lb" x="582" y="586">endosome-GC</text></g>
<g id="n-p4"><rect class="cp" x="543" y="587" width="78" height="25"/><text class="lb" x="582" y="605">ER-endosome</text></g>
<g id="n-p5"><rect class="cp" x="543" y="612" width="78" height="14"/><text class="lb" x="582" y="623">ER-GC interaction</text></g>
<g id="n-p6"><rect class="cp" x="543" y="626" width="78" height="28"/><text class="lb" x="582" y="644">ER-PM junctions</text></g>
<g id="n-p7"><rect class="cp" x="543" y="654" width="78" height="70"/><text class="lb" x="582" y="695">mitophagy</text></g>
<g id="n-p8"><rect class="cp" x="543" y="724" width="78" height="14"/><text class="lb" x="582" y="734">MT biogenesis</text></g>
<g id="n-p9"><rect class="cp" x="543" y="738" width="78" height="20"/><text class="lb" x="582" y="752">MT contact site</text></g>
<g id="n-p10"><rect class="cp" x="543" y="758" width="78" height="150"/><text class="lb" x="582" y="837">MT fission</text></g>
<g id="n-p11"><rect class="cp" x="543" y="908" width="78" height="14"/><text class="lb" x="582" y="920">MT fusion</text></g>
<g id="n-p12"><rect class="cp" x="543" y="922" width="78" height="12"/><text class="lb" x="582" y="931">MT translocation</text></g>
<g id="n-p13"><rect class="cp" x="543" y="934" width="78" height="26"/><text class="lb" x="582" y="952">Sarcoplasmic reticulum-MT</text></g>
<g id="n-p14"><rect class="cp" x="543" y="960" width="78" height="377"/><text class="lb" x="582" y="1156">vesicle</text></g>

<!-- Column 4 disease nodes -->
<g id="n-d1"><rect class="cd" x="802" y="551" width="77" height="64"/><text class="ls" x="788" y="587">Acute inflammation</text></g>
<g id="n-d2"><rect class="cd" x="802" y="615" width="77" height="145"/><text class="ls" x="783" y="691">Autoimmune diseas</text></g>
<g id="n-d3"><rect class="cd" x="802" y="760" width="77" height="118"/><text class="ls" x="781" y="823">Influenza virus infect</text></g>
<g id="n-d4"><rect class="cd" x="802" y="878" width="77" height="176"/><text class="ls" x="784" y="970">MERS-cov inoculate</text></g>
<g id="n-d5"><rect class="cd" x="802" y="1054" width="77" height="110"/><text class="ls" x="791" y="1113">Metabolic diseases</text></g>
<g id="n-d6"><rect class="cd" x="802" y="1164" width="77" height="60"/><text class="lb" x="840.5" y="1198">Organ failures</text></g>
<g id="n-d7"><rect class="cd" x="802" y="1224" width="77" height="113"/><text class="ls" x="760" y="1284">Pro-atherogenic factors t</text></g>
</svg>
